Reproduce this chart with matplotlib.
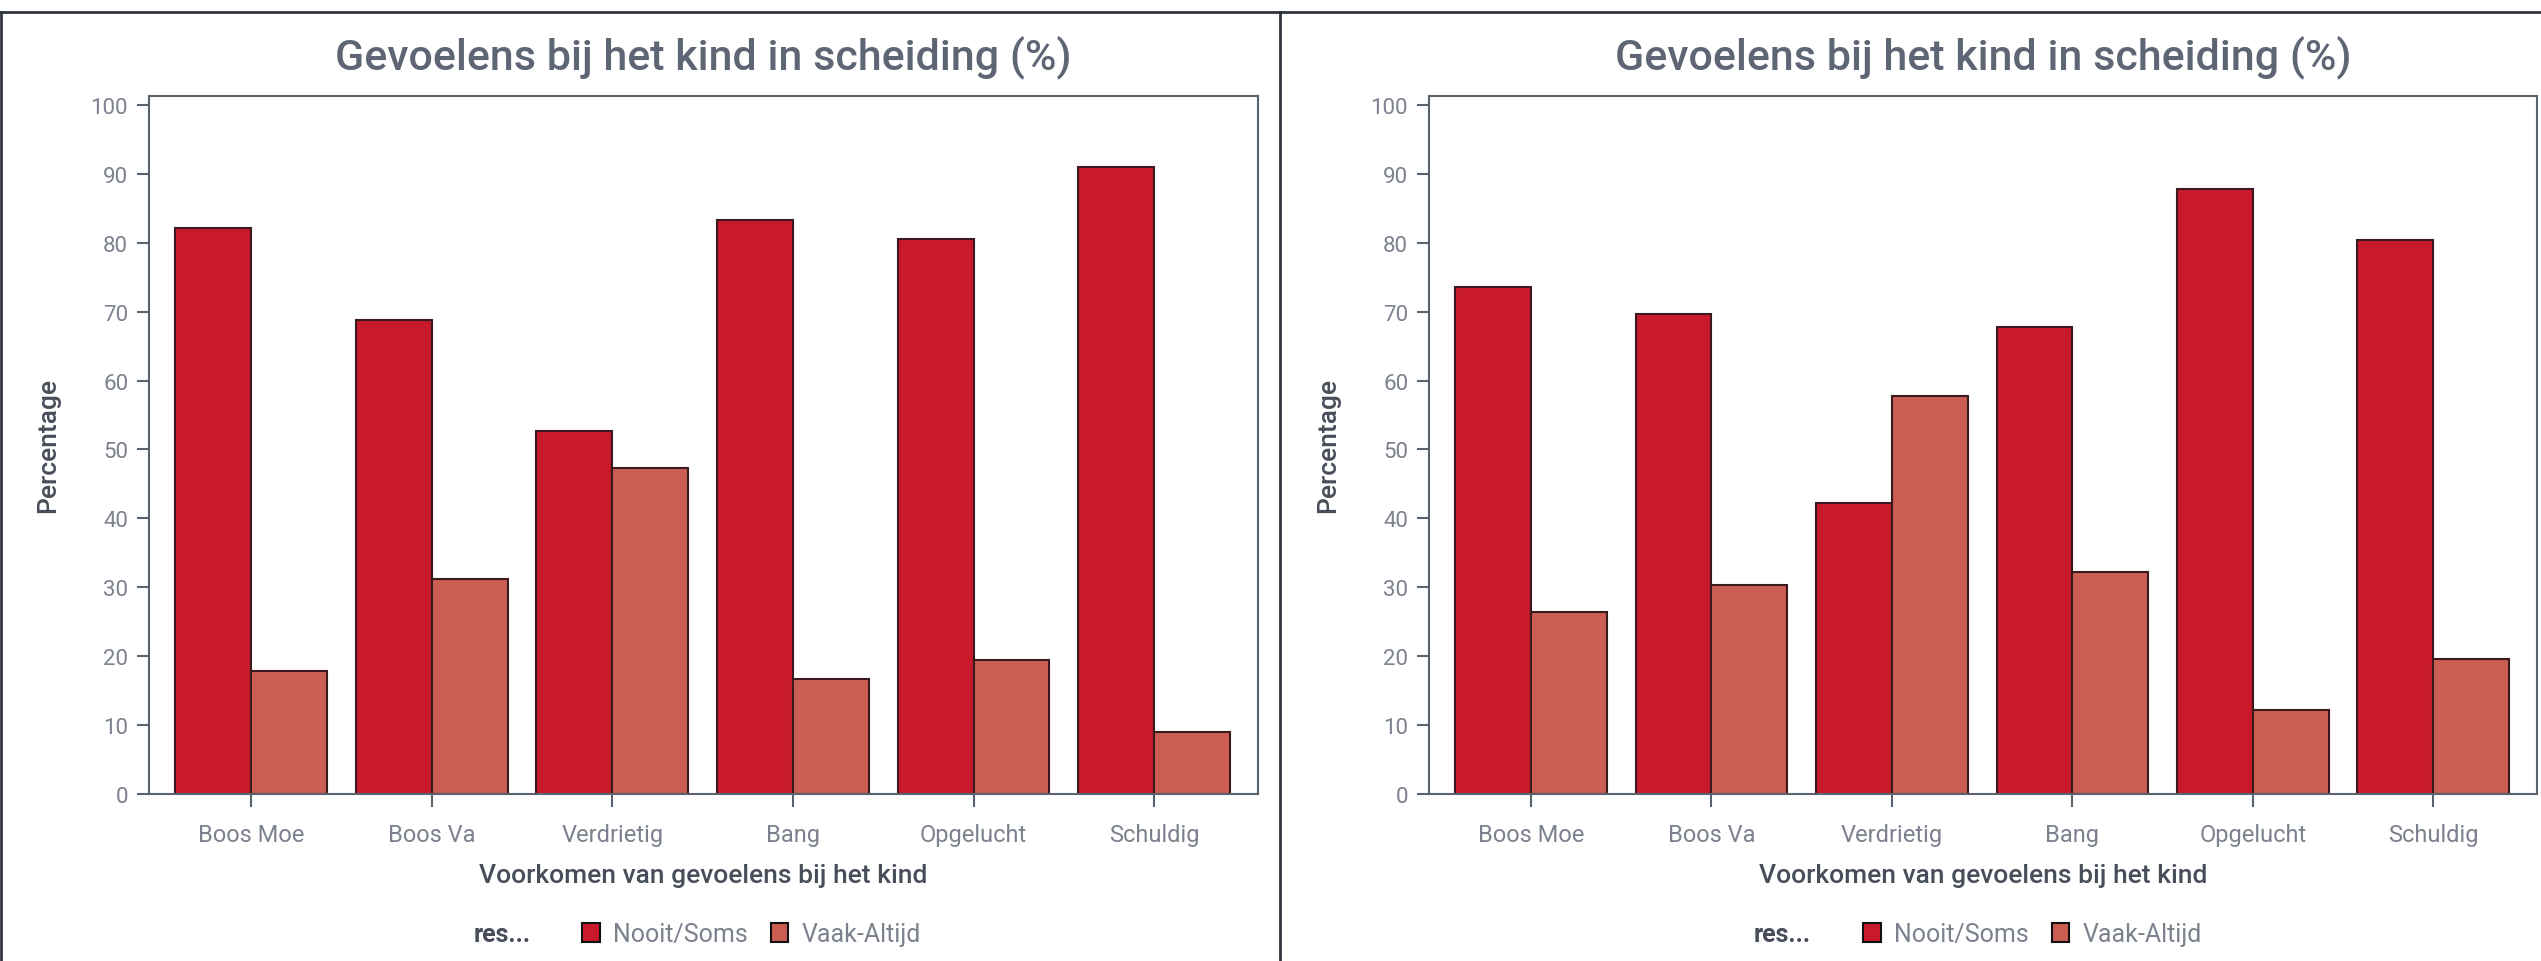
import matplotlib
matplotlib.use("Agg")
import matplotlib.pyplot as plt
from matplotlib.lines import Line2D
from matplotlib.patches import Patch
import numpy as np

# data
categories = ["Boos Moe", "Boos Va", "Verdrietig", "Bang", "Opgelucht", "Schuldig"]
series_names = ["Nooit/Soms", "Vaak-Altijd"]

left_nooit = [82.1, 68.8, 52.7, 83.3, 80.6, 91.0]
left_vaak = [17.9, 31.2, 47.3, 16.7, 19.4, 9.0]

right_nooit = [73.6, 69.6, 42.2, 67.8, 87.8, 80.4]
right_vaak = [26.4, 30.4, 57.8, 32.2, 12.2, 19.6]

yticks = list(range(0, 101, 10))
title = "Gevoelens bij het kind in scheiding (%)"
xlabel = "Voorkomen van gevoelens bij het kind"
ylabel = "Percentage"
legend_title = "res..."

RED = "#c91a2b"
SALMON = "#cc5d52"
EDGE = "#3a1a1c"
SPINE = "#5c6370"
TITLE_C = "#5e6574"
TICK_C = "#7b818d"
LABEL_C = "#474d59"

plt.rcParams['font.family'] = ['Roboto', 'DejaVu Sans']

W, H = 2541, 962
fig = plt.figure(figsize=(W / 100, H / 100), dpi=100)


def px_axes(x0, y_top, x1, y_bot):
    return fig.add_axes([x0 / W, 1 - y_bot / H, (x1 - x0) / W, (y_bot - y_top) / H])


def draw_panel(ax, nooit, vaak):
    x = np.arange(len(categories))
    w = 0.42
    ax.bar(x - w / 2, nooit, w, color=RED, edgecolor=EDGE, linewidth=1.5, label=series_names[0])
    ax.bar(x + w / 2, vaak, w, color=SALMON, edgecolor=EDGE, linewidth=1.5, label=series_names[1])
    ax.set_xlim(-0.565, len(categories) - 1 + 0.575)
    ax.set_ylim(0, 101.3)
    ax.set_yticks(yticks)
    ax.set_xticks(x)
    ax.set_xticklabels(categories)
    for s in ax.spines.values():
        s.set_color(SPINE)
        s.set_linewidth(1.5)
    ax.tick_params(axis='both', colors=SPINE, length=9, width=1.5, pad=6)
    ax.tick_params(axis='x', labelcolor=TICK_C, labelsize=17, pad=12)
    ax.tick_params(axis='y', labelcolor=TICK_C, labelsize=16)
    ax.set_title(title, fontsize=31, color=TITLE_C, pad=20, fontweight='medium')
    ax.set_xlabel(xlabel, fontsize=19, color=LABEL_C, fontweight='medium', labelpad=12)
    ax.set_ylabel(ylabel, fontsize=19, color=LABEL_C, fontweight='medium', labelpad=22)


ax1 = px_axes(149, 97, 1258, 795)
draw_panel(ax1, left_nooit, left_vaak)
ax2 = px_axes(1429, 97, 2537, 795)
draw_panel(ax2, right_nooit, right_vaak)

# legends under each panel
handles = [Patch(facecolor=RED, edgecolor="#111111", linewidth=1.5),
           Patch(facecolor=SALMON, edgecolor="#111111", linewidth=1.5)]
for res_x, patch_x in [(474, 582), (1754, 1863)]:
    fig.text(res_x / W, 1 - 935 / H, legend_title, fontsize=18, fontweight='bold',
             color=LABEL_C, ha='left', va='center')
    fig.legend(handles, series_names, loc='center left',
               bbox_to_anchor=(patch_x / W, 1 - 935 / H), ncol=2, frameon=False,
               fontsize=18, labelcolor=TICK_C, handlelength=0.7, handleheight=0.8,
               handletextpad=0.55, columnspacing=0.9, borderpad=0, borderaxespad=0)

# panel frame lines
frame_c = "#30343c"
fig.add_artist(Line2D([0, 1], [1 - 13 / H, 1 - 13 / H], color=frame_c, linewidth=2))
fig.add_artist(Line2D([1 / W, 1 / W], [0, 1 - 13 / H], color=frame_c, linewidth=2))
fig.add_artist(Line2D([1280 / W, 1280 / W], [0, 1 - 13 / H], color=frame_c, linewidth=2))

fig.savefig("out.png", dpi=100)
